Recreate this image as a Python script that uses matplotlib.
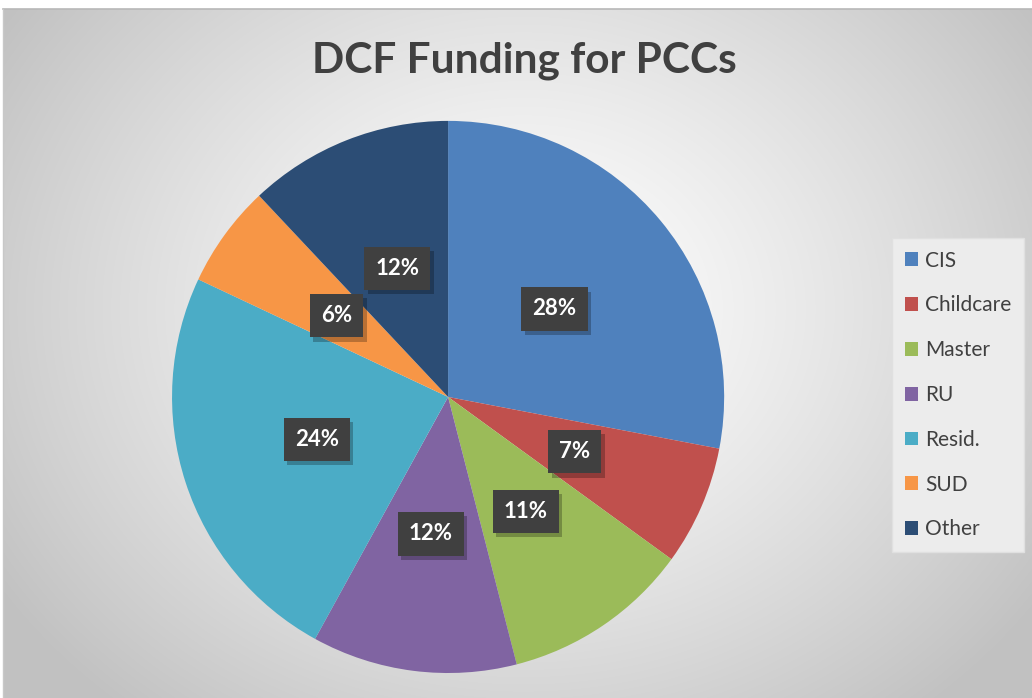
import numpy as np
import matplotlib
matplotlib.use("Agg")
import matplotlib.pyplot as plt
import matplotlib.patheffects as pe

# data
categories = ["CIS", "Childcare", "Master", "RU", "Resid.", "SUD", "Other"]
shares = [28, 7, 11, 12, 24, 6, 12]
colors = ["#4f81bd", "#c0504d", "#9bbb59", "#8064a2", "#4bacc6", "#f79646", "#2c4d75"]
title = "DCF Funding for PCCs"

plt.rcParams["font.family"] = ["Lato", "DejaVu Sans"]

W, H = 1032, 698
fig = plt.figure(figsize=(W / 100, H / 100), dpi=100)
fig.patch.set_facecolor("white")

# radial gradient background
bg = fig.add_axes([3 / W, 0, 1 - 3 / W, 1 - 9 / H])
yy, xx = np.mgrid[0:H - 9, 0:W - 3]
cx, cy = 520, 300
d = np.sqrt(((xx - cx) / 620) ** 2 + ((yy - cy) / 520) ** 2)
shade = np.clip(1 - 0.24 * d ** 1.3, 0.76, 1)
bg.imshow(np.dstack([shade] * 3), aspect="auto", interpolation="bilinear")
bg.axis("off")
fig.add_artist(plt.Line2D([3 / W, 1], [1 - 9 / H, 1 - 9 / H], color="#b8b8b8", lw=1.2))
fig.add_artist(plt.Line2D([3 / W, 3 / W], [0, 1 - 9 / H], color="#c8c8c8", lw=1))

ax = fig.add_axes([0.1667, 0.0358, 0.535, 0.791])
wedges, texts, autotexts = ax.pie(
    shares, colors=colors, startangle=90, counterclock=False,
    autopct="%d%%", pctdistance=0.5,
    wedgeprops=dict(linewidth=0),
    textprops=dict(color="white", fontsize=16, fontweight="bold"),
)
for t in autotexts:
    t.set_bbox(dict(boxstyle="square,pad=0.5", facecolor="#404040", edgecolor="none"))
    t.get_bbox_patch().set_path_effects([
        pe.SimplePatchShadow(offset=(2.5, -3), shadow_rgbFace="black", alpha=0.25),
        pe.Normal(),
    ])
ax.set_xlim(-1, 1)
ax.set_ylim(-1, 1)
ax.set_aspect("equal")

fig.text(0.508, 0.913, title, ha="center", va="center", fontsize=30.5,
         fontweight="bold", color="#404040")

leg = fig.legend(wedges, categories, loc="center left",
                 bbox_to_anchor=(892 / W, 1 - 395 / H),
                 frameon=True, fancybox=False, fontsize=15,
                 handlelength=0.65, handleheight=0.65, handletextpad=0.35,
                 labelspacing=1.19, borderpad=0.6, borderaxespad=0,
                 labelcolor="#404040")
leg.get_frame().set_facecolor("#ececec")
leg.get_frame().set_edgecolor("#e0e0e0")
leg.get_frame().set_alpha(1)

fig.savefig("out.png", dpi=100)
